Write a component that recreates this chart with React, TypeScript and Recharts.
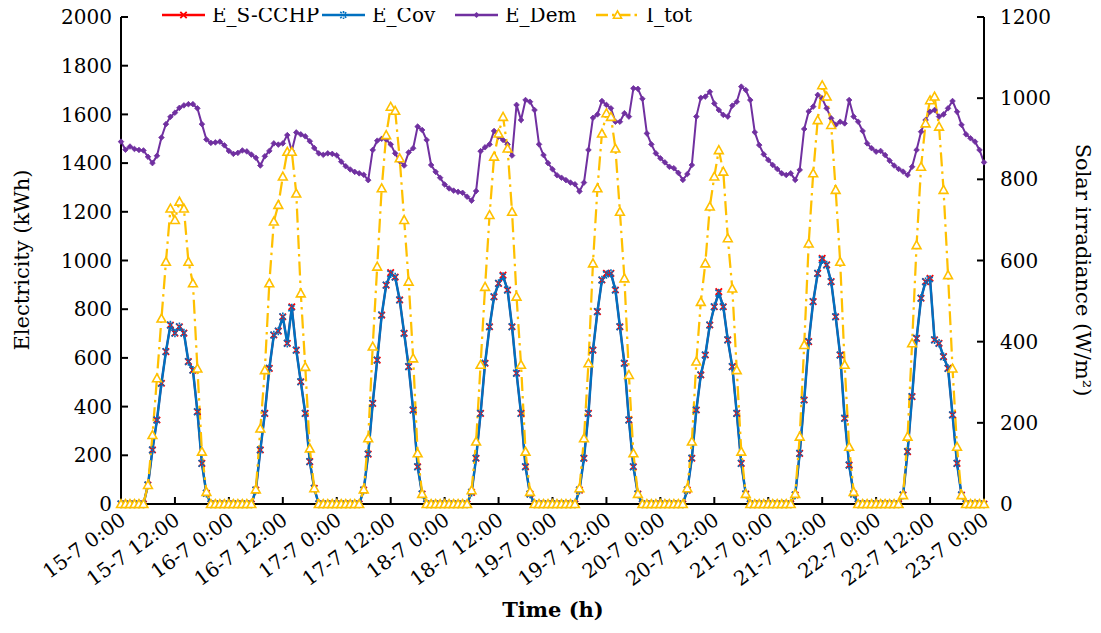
import React from 'react';
import { ComposedChart, Line, XAxis, YAxis, Legend, Label } from 'recharts';

// hours counted from 15-7 0:00, one tick every 12 h
const timeTicks = [0, 12, 24, 36, 48, 60, 72, 84, 96, 108, 120, 132, 144, 156, 168, 180, 192];
const timeTickLabels = [
  '15-7 0:00', '15-7 12:00', '16-7 0:00', '16-7 12:00', '17-7 0:00', '17-7 12:00',
  '18-7 0:00', '18-7 12:00', '19-7 0:00', '19-7 12:00', '20-7 0:00', '20-7 12:00',
  '21-7 0:00', '21-7 12:00', '22-7 0:00', '22-7 12:00', '23-7 0:00',
];

const elecTicks = [0, 200, 400, 600, 800, 1000, 1200, 1400, 1600, 1800, 2000];
const solarTicks = [0, 200, 400, 600, 800, 1000, 1200];

// hours of the day with sunshine; outside them E_S-CCHP, E_Cov and I_tot are 0
const daylightHours = [6, 7, 8, 9, 10, 11, 12, 13, 14, 15, 16, 17, 18, 19];

// E_S-CCHP (kWh), one row per day, hours 6..19
const eSCchpDaylight = [
  [78, 222, 345, 496, 626, 735, 702, 728, 702, 585, 550, 379, 167, 44],
  [57, 222, 372, 557, 694, 710, 769, 660, 810, 632, 502, 372, 174, 64],
  [57, 205, 413, 591, 776, 899, 950, 932, 838, 701, 564, 386, 153, 41],
  [48, 188, 372, 578, 728, 851, 906, 940, 879, 728, 537, 372, 153, 41],
  [57, 188, 372, 632, 790, 920, 947, 947, 879, 728, 578, 345, 153, 41],
  [57, 188, 386, 530, 612, 735, 810, 872, 810, 674, 564, 372, 167, 41],
  [37, 208, 427, 667, 831, 947, 1009, 982, 913, 769, 612, 352, 160, 41],
  [37, 215, 441, 680, 845, 913, 927, 674, 660, 605, 557, 366, 167, 37],
];

// E_Cov (kWh) sits on top of E_S-CCHP in the figure
const eCovDaylight = [
  [78, 222, 345, 496, 626, 735, 702, 728, 702, 585, 550, 379, 167, 44],
  [57, 222, 372, 557, 694, 710, 769, 660, 805, 632, 502, 372, 174, 64],
  [57, 205, 413, 591, 776, 899, 945, 932, 838, 701, 564, 386, 153, 41],
  [48, 188, 372, 578, 728, 851, 906, 935, 879, 728, 537, 372, 153, 41],
  [57, 188, 372, 632, 790, 920, 942, 947, 879, 728, 578, 345, 153, 41],
  [57, 188, 386, 530, 612, 735, 810, 866, 810, 674, 564, 372, 167, 41],
  [37, 208, 427, 667, 831, 947, 1003, 982, 913, 769, 612, 352, 160, 41],
  [37, 215, 441, 680, 845, 913, 922, 674, 660, 605, 557, 366, 167, 37],
];

// I_tot (W/m2), hours 6..19
const iTotDaylight = [
  [47, 170, 310, 457, 597, 728, 700, 745, 728, 597, 544, 334, 129, 30],
  [36, 186, 330, 544, 696, 737, 807, 868, 868, 765, 519, 338, 137, 39],
  [36, 162, 388, 585, 778, 909, 979, 969, 852, 700, 548, 359, 125, 25],
  [34, 154, 343, 535, 712, 856, 913, 954, 876, 720, 511, 343, 129, 30],
  [39, 162, 347, 593, 778, 913, 963, 954, 876, 720, 556, 318, 125, 25],
  [39, 154, 351, 498, 593, 733, 807, 872, 819, 655, 531, 330, 129, 25],
  [25, 166, 392, 642, 815, 946, 1032, 1004, 934, 774, 597, 343, 141, 30],
  [22, 166, 396, 638, 831, 938, 995, 1004, 930, 774, 564, 334, 141, 22],
];

// E_Dem (kWh), 24 hourly values per day
const eDemByDay = [
  [1488, 1455, 1468, 1458, 1454, 1452, 1426, 1400, 1430, 1505, 1560, 1590, 1607, 1627, 1637, 1642, 1642, 1625, 1560, 1497, 1483, 1485, 1488, 1473],
  [1450, 1438, 1442, 1452, 1448, 1435, 1422, 1390, 1428, 1450, 1481, 1476, 1481, 1515, 1450, 1526, 1518, 1510, 1490, 1462, 1440, 1434, 1440, 1438],
  [1432, 1406, 1387, 1374, 1364, 1358, 1352, 1330, 1454, 1492, 1500, 1497, 1477, 1440, 1408, 1390, 1444, 1461, 1550, 1536, 1495, 1392, 1364, 1340],
  [1312, 1296, 1287, 1282, 1278, 1262, 1246, 1285, 1449, 1465, 1477, 1532, 1509, 1495, 1477, 1431, 1639, 1577, 1659, 1652, 1618, 1477, 1433, 1400],
  [1375, 1350, 1340, 1330, 1320, 1313, 1284, 1320, 1454, 1586, 1600, 1655, 1639, 1625, 1570, 1570, 1605, 1591, 1707, 1705, 1664, 1522, 1477, 1440],
  [1420, 1403, 1385, 1379, 1360, 1331, 1355, 1392, 1591, 1668, 1673, 1693, 1645, 1618, 1598, 1591, 1636, 1652, 1714, 1700, 1659, 1527, 1474, 1436],
  [1413, 1392, 1376, 1358, 1351, 1358, 1331, 1372, 1540, 1612, 1632, 1680, 1666, 1625, 1584, 1557, 1570, 1563, 1659, 1591, 1570, 1532, 1481, 1461],
  [1447, 1450, 1433, 1410, 1390, 1376, 1365, 1351, 1385, 1454, 1529, 1577, 1611, 1618, 1591, 1600, 1625, 1655, 1611, 1557, 1518, 1502, 1488, 1454],
];
const eDemLast = 1403; // 23-7 0:00

const data: any[] = [];
eDemByDay.forEach((dem, d) => {
  dem.forEach((v, hr) => {
    const k = daylightHours.indexOf(hr);
    data.push({
      t: d * 24 + hr,
      eS: k >= 0 ? eSCchpDaylight[d][k] : 0,
      eCov: k >= 0 ? eCovDaylight[d][k] : 0,
      eDem: v,
      iTot: k >= 0 ? iTotDaylight[d][k] : 0,
    });
  });
});
data.push({ t: 192, eS: 0, eCov: 0, eDem: eDemLast, iTot: 0 });

const FONT = '"DejaVu Serif", serif';
const RED = '#FF0000';
const BLUE = '#0070C0';
const PURPLE = '#7030A0';
const GOLD = '#FFC000';

function crossPath(cx: number, cy: number, r: number) {
  return `M${cx - r},${cy - r}L${cx + r},${cy + r}M${cx - r},${cy + r}L${cx + r},${cy - r}`;
}
function starPath(cx: number, cy: number, r: number) {
  return `${crossPath(cx, cy, r * 0.8)}M${cx},${cy - r}L${cx},${cy + r}`;
}
function diamondPath(cx: number, cy: number, r: number) {
  return `M${cx},${cy - r}L${cx + r},${cy}L${cx},${cy + r}L${cx - r},${cy}Z`;
}
function trianglePath(cx: number, cy: number, r: number) {
  return `M${cx},${cy - r}L${cx + r},${cy + r * 0.8}L${cx - r},${cy + r * 0.8}Z`;
}

const crossDot = (p: any) =>
  p.cx == null ? <g key={`s${p.index}`} /> : (
    <path key={`s${p.index}`} d={crossPath(p.cx, p.cy, 3.2)} stroke={RED} strokeWidth={1.8} fill="none" />
  );
const starDot = (p: any) =>
  p.cx == null ? <g key={`c${p.index}`} /> : (
    <path key={`c${p.index}`} d={starPath(p.cx, p.cy, 4.2)} stroke={BLUE} strokeWidth={1.6} strokeDasharray="2 1.2" fill="none" />
  );
const diamondDot = (p: any) =>
  p.cx == null ? <g key={`d${p.index}`} /> : (
    <path key={`d${p.index}`} d={diamondPath(p.cx, p.cy, 2.8)} fill={PURPLE} stroke={PURPLE} strokeWidth={0.8} />
  );
const triangleDot = (p: any) =>
  p.cx == null ? <g key={`i${p.index}`} /> : (
    <path key={`i${p.index}`} d={trianglePath(p.cx, p.cy, 4.4)} fill="#fff" stroke={GOLD} strokeWidth={1.6} />
  );

const TimeTick = (props: any) => {
  const { x, y, payload } = props;
  const label = timeTickLabels[timeTicks.indexOf(payload.value)];
  return (
    <text
      x={x + 2}
      y={y}
      dy="0.35em"
      transform={`rotate(-36 ${x + 2} ${y})`}
      textAnchor="end"
      fontFamily={FONT}
      fontSize={20}
      fill="#000"
    >
      {label}
    </text>
  );
};

const AxisTitle = ({ x, y, angle, bold, text }: any) => (
  <text
    x={x}
    y={y}
    transform={angle ? `rotate(${angle} ${x} ${y})` : undefined}
    textAnchor="middle"
    dominantBaseline="central"
    fontFamily={FONT}
    fontSize={21}
    fontWeight={bold ? 700 : 400}
    fill="#000"
  >
    {text}
  </text>
);

const legendItems = [
  { name: 'E_S-CCHP', color: RED, marker: 'cross', left: 162 },
  { name: 'E_Cov', color: BLUE, marker: 'star', left: 322 },
  { name: 'E_Dem', color: PURPLE, marker: 'diamond', left: 455 },
  { name: 'I_tot', color: GOLD, marker: 'triangle', left: 596 },
];

// legend drawn as svg so the text sits exactly on the marker line
const renderLegend = () => {
  const cy = 15;
  return (
    <svg width={1101} height={32} style={{ display: 'block', overflow: 'visible' }}>
      {legendItems.map((it) => {
        const mx = it.left + 21.5;
        return (
          <g key={it.name}>
            <line
              x1={it.left}
              y1={cy}
              x2={it.left + 43}
              y2={cy}
              stroke={it.color}
              strokeWidth={2.5}
              strokeDasharray={it.marker === 'triangle' ? '12 4 2.5 4' : undefined}
            />
            {it.marker === 'cross' && <path d={crossPath(mx, cy, 3.2)} stroke={RED} strokeWidth={1.8} fill="none" />}
            {it.marker === 'star' && (
              <path d={starPath(mx, cy, 4)} stroke={BLUE} strokeWidth={1.6} strokeDasharray="2 1.2" fill="none" />
            )}
            {it.marker === 'diamond' && <path d={diamondPath(mx, cy, 3)} fill={PURPLE} />}
            {it.marker === 'triangle' && (
              <path d={trianglePath(mx, cy, 4)} fill="#fff" stroke={GOLD} strokeWidth={1.6} />
            )}
            <text
              x={it.left + 50}
              y={cy}
              dominantBaseline="central"
              fontFamily={FONT}
              fontSize={20}
              fill="#000"
            >
              {it.name}
            </text>
          </g>
        );
      })}
    </svg>
  );
};

export default function App() {
  const tickStyle = { fontFamily: FONT, fontSize: 20, fill: '#000' };
  const axisLine = { stroke: '#000', strokeWidth: 2 };
  return (
    <div style={{ position: 'relative', width: 1101, height: 633, marginLeft: -8, marginTop: -8 }}>
      <ComposedChart width={1101} height={633} data={data} margin={{ top: 17, right: 0, bottom: 0, left: 0 }}>
        <XAxis
          dataKey="t"
          type="number"
          domain={[0, 192]}
          ticks={timeTicks}
          interval={0}
          height={129}
          tick={<TimeTick />}
          tickSize={-7}
          tickMargin={20}
          axisLine={axisLine}
          tickLine={axisLine}
        >
          <Label content={() => <AxisTitle x={553} y={609} bold text="Time (h)" />} />
        </XAxis>
        <YAxis
          yAxisId="left"
          domain={[0, 2000]}
          ticks={elecTicks}
          interval={0}
          width={121}
          tick={tickStyle}
          tickSize={-7}
          tickMargin={16}
          axisLine={axisLine}
          tickLine={axisLine}
        >
          <Label content={() => <AxisTitle x={22} y={260} angle={-90} text="Electricity (kWh)" />} />
        </YAxis>
        <YAxis
          yAxisId="right"
          orientation="right"
          domain={[0, 1200]}
          ticks={solarTicks}
          interval={0}
          width={117}
          tick={{ ...tickStyle, textAnchor: 'start' }}
          tickSize={-7}
          tickMargin={23}
          axisLine={axisLine}
          tickLine={axisLine}
        >
          <Label content={() => <AxisTitle x={1083} y={270} angle={90} text="Solar irradiance (W/m²)" />} />
        </YAxis>
        <Legend
          layout="horizontal"
          verticalAlign="middle"
          align="center"
          content={renderLegend}
          wrapperStyle={{ top: 0, left: 0, width: 1101, height: 32, zIndex: 5 }}
        />
        <Line
          yAxisId="left"
          dataKey="eS"
          name="E_S-CCHP"
          type="linear"
          stroke={RED}
          strokeWidth={2}
          dot={crossDot}
          activeDot={false}
          isAnimationActive={false}
        />
        <Line
          yAxisId="left"
          dataKey="eCov"
          name="E_Cov"
          type="linear"
          stroke={BLUE}
          strokeWidth={2.5}
          dot={starDot}
          activeDot={false}
          isAnimationActive={false}
        />
        <Line
          yAxisId="left"
          dataKey="eDem"
          name="E_Dem"
          type="linear"
          stroke={PURPLE}
          strokeWidth={2}
          dot={diamondDot}
          activeDot={false}
          isAnimationActive={false}
        />
        <Line
          yAxisId="right"
          dataKey="iTot"
          name="I_tot"
          type="linear"
          stroke={GOLD}
          strokeWidth={2.25}
          strokeDasharray="14 5 2.5 5"
          dot={triangleDot}
          activeDot={false}
          isAnimationActive={false}
        />
      </ComposedChart>
    </div>
  );
}
